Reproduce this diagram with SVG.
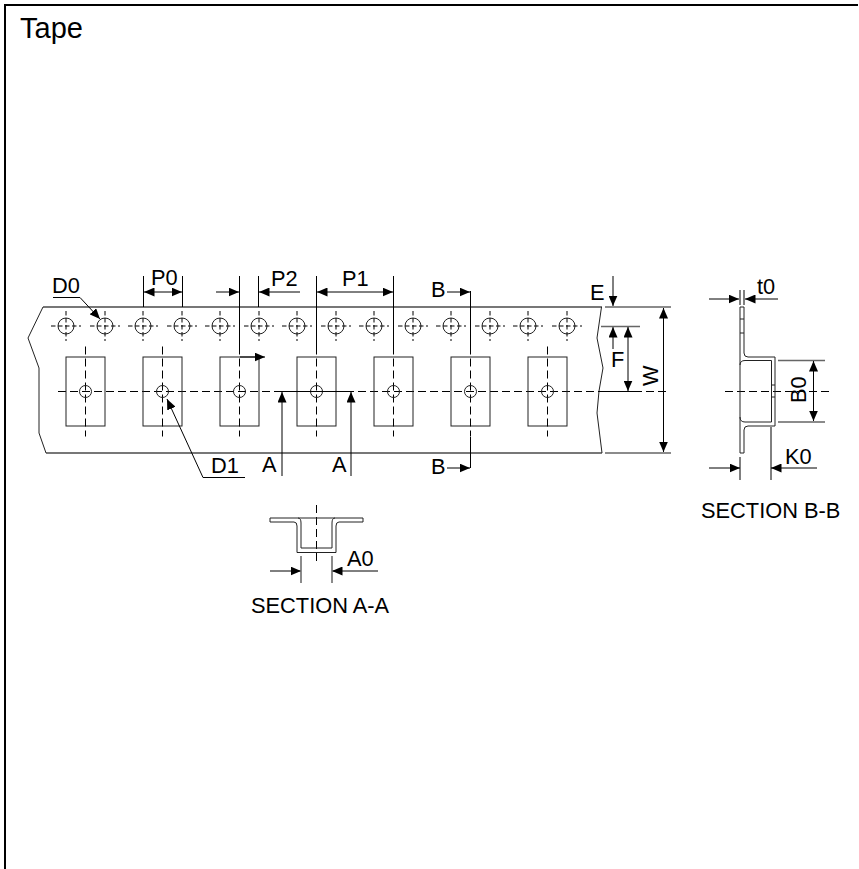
<svg xmlns="http://www.w3.org/2000/svg" width="859" height="869" viewBox="0 0 859 869">
<defs>
<marker id="a" viewBox="0 0 10.500 9" refX="10.500" refY="4.500" markerWidth="10.500" markerHeight="9" markerUnits="userSpaceOnUse" orient="auto-start-reverse"><path d="M0 0L10.500 4.500L0 9Z" fill="#000"/></marker>
<g id="sp"><circle r="8" class="th"/><path d="M-15 0H15M0 -15V15" class="dd"/></g>
<g id="pk"><rect x="-19.500" y="-34.500" width="39" height="69" class="th"/><path d="M0 -45V45" class="d"/><circle r="6" class="th"/></g>
</defs>
<style>
.th{fill:none;stroke:#222;stroke-width:1}
.t{fill:none;stroke:#777;stroke-width:2}
.x{fill:none;stroke:#666;stroke-width:1.500}
.l{fill:none;stroke:#000;stroke-width:1}
.la{fill:none;stroke:#000;stroke-width:1;marker-end:url(#a)}
.lb{fill:none;stroke:#000;stroke-width:1;marker-start:url(#a);marker-end:url(#a)}
.d{fill:none;stroke:#000;stroke-width:1;stroke-dasharray:8 4}
.dd{fill:none;stroke:#000;stroke-width:1;stroke-dasharray:4.500 2.500}
text{font-family:"Liberation Sans",Arial,sans-serif;font-size:21.800px;fill:#000}
</style>
<rect x="0" y="0" width="859" height="869" fill="#fff"/>
<path d="M5 869V5H858" fill="none" stroke="#000" stroke-width="2"/>
<text x="20" y="38" style="font-size:29px">Tape</text>
<g id="tape">
<path d="M43 307H602M46 453H602" class="t"/>
<path d="M43 307L28 338L39 368V433L46 453" class="th"/>
<path d="M601.500 307L597 338L603 368L599 391L597 413L602 453" class="th"/>
<path d="M58 391.500H666" class="d"/>
</g>
<g id="sprockets">
<use href="#sp" x="66" y="326"/><use href="#sp" x="105" y="326"/><use href="#sp" x="143" y="326"/><use href="#sp" x="182" y="326"/><use href="#sp" x="220" y="326"/><use href="#sp" x="259" y="326"/><use href="#sp" x="297" y="326"/><use href="#sp" x="336" y="326"/><use href="#sp" x="374" y="326"/><use href="#sp" x="413" y="326"/><use href="#sp" x="451" y="326"/><use href="#sp" x="490" y="326"/><use href="#sp" x="528" y="326"/><use href="#sp" x="567" y="326"/>
</g>
<g id="pockets">
<use href="#pk" x="85.500" y="391.500"/><use href="#pk" x="162.500" y="391.500"/><use href="#pk" x="239.500" y="391.500"/><use href="#pk" x="316.500" y="391.500"/><use href="#pk" x="393.500" y="391.500"/><use href="#pk" x="470.500" y="391.500"/><use href="#pk" x="547.500" y="391.500"/>
</g>
<g id="connectors">
<path d="M143.500 276V307M182.500 276V307M239.500 276V350M258.500 276V307M316.500 276V350M393.500 276V350M470.500 291V350M470.500 437V468M281.500 391.500H351.500M600 391.500H641" class="l"/>
<path d="M144 292H182" class="lb"/>
<path d="M216 292H239" class="la"/>
<path d="M300 292H259" class="la"/>
<path d="M317 292H393" class="lb"/>
<path d="M447 292H470" class="la"/>
<path d="M447 468H470" class="la"/>
<path d="M240 357H265" class="la"/>
<path d="M282 476V392" class="la"/>
<path d="M351 476V392" class="la"/>
<path d="M53 297.500H80L100 319" class="la"/>
<path d="M245 477.500H203L167 399" class="la"/>
<path d="M613 276V306" class="la"/>
<path d="M613 349V327" class="la"/>
<path d="M601 326.500H640M605 307H671M605 453H671" class="x"/>
<path d="M628 327V391" class="lb"/>
<path d="M663.500 308V452" class="lb"/>
<path d="M709 299H739" class="la"/>
<path d="M778 299H745" class="la"/>
<path d="M740 290V305M744 290V305M740 457V480M771 427V480" class="l"/>
<path d="M778 360.500H825M778 422H825" class="x"/>
<path d="M709 468H740" class="la"/>
<path d="M817 468H771" class="la"/>
<path d="M813.500 361V421" class="lb"/>
<path d="M725 391.500H831" class="d"/>
<path d="M270 571H301" class="la"/>
<path d="M378 571H332" class="la"/>
<path d="M301 556V583M332 556V583" class="x"/>
<path d="M316.500 505V565" class="d"/>
</g>
<g id="section-bb">
<path d="M740 307H744V353Q744 357 748 357H775V426H748Q744 426 744 430V453H740Z" class="th"/>
<path d="M740 365Q740 360.500 745 360.500H771.500V422H745Q740 422 740 417M740 319H744M740 333H744M771.500 385H775M771.500 397H775" class="th"/>
</g>
<g id="section-aa">
<path d="M270 518H363V522H339Q336 522 336 526V552.500H297V526Q297 522 294 522H270Z" class="th"/>
<path d="M298 518Q301 518 301 523V548H332V523Q332 518 335 518" class="th"/>
</g>
<g id="labels">
<text x="52" y="293">D0</text><text x="151" y="285">P0</text><text x="271" y="286">P2</text><text x="342" y="286">P1</text>
<text x="431" y="297">B</text><text x="431" y="474">B</text>
<text x="590" y="300">E</text><text x="611" y="367">F</text>
<text x="0" y="0" transform="translate(658 386) rotate(-90)">W</text>
<text x="0" y="0" transform="translate(806 403) rotate(-90)">B0</text>
<text x="757" y="294">t0</text><text x="785" y="464">K0</text>
<text x="211" y="473">D1</text><text x="262" y="472">A</text><text x="332" y="472">A</text>
<text x="347" y="566">A0</text>
<text x="251" y="613">SECTION A-A</text>
<text x="701" y="518">SECTION B-B</text>
</g>
</svg>
